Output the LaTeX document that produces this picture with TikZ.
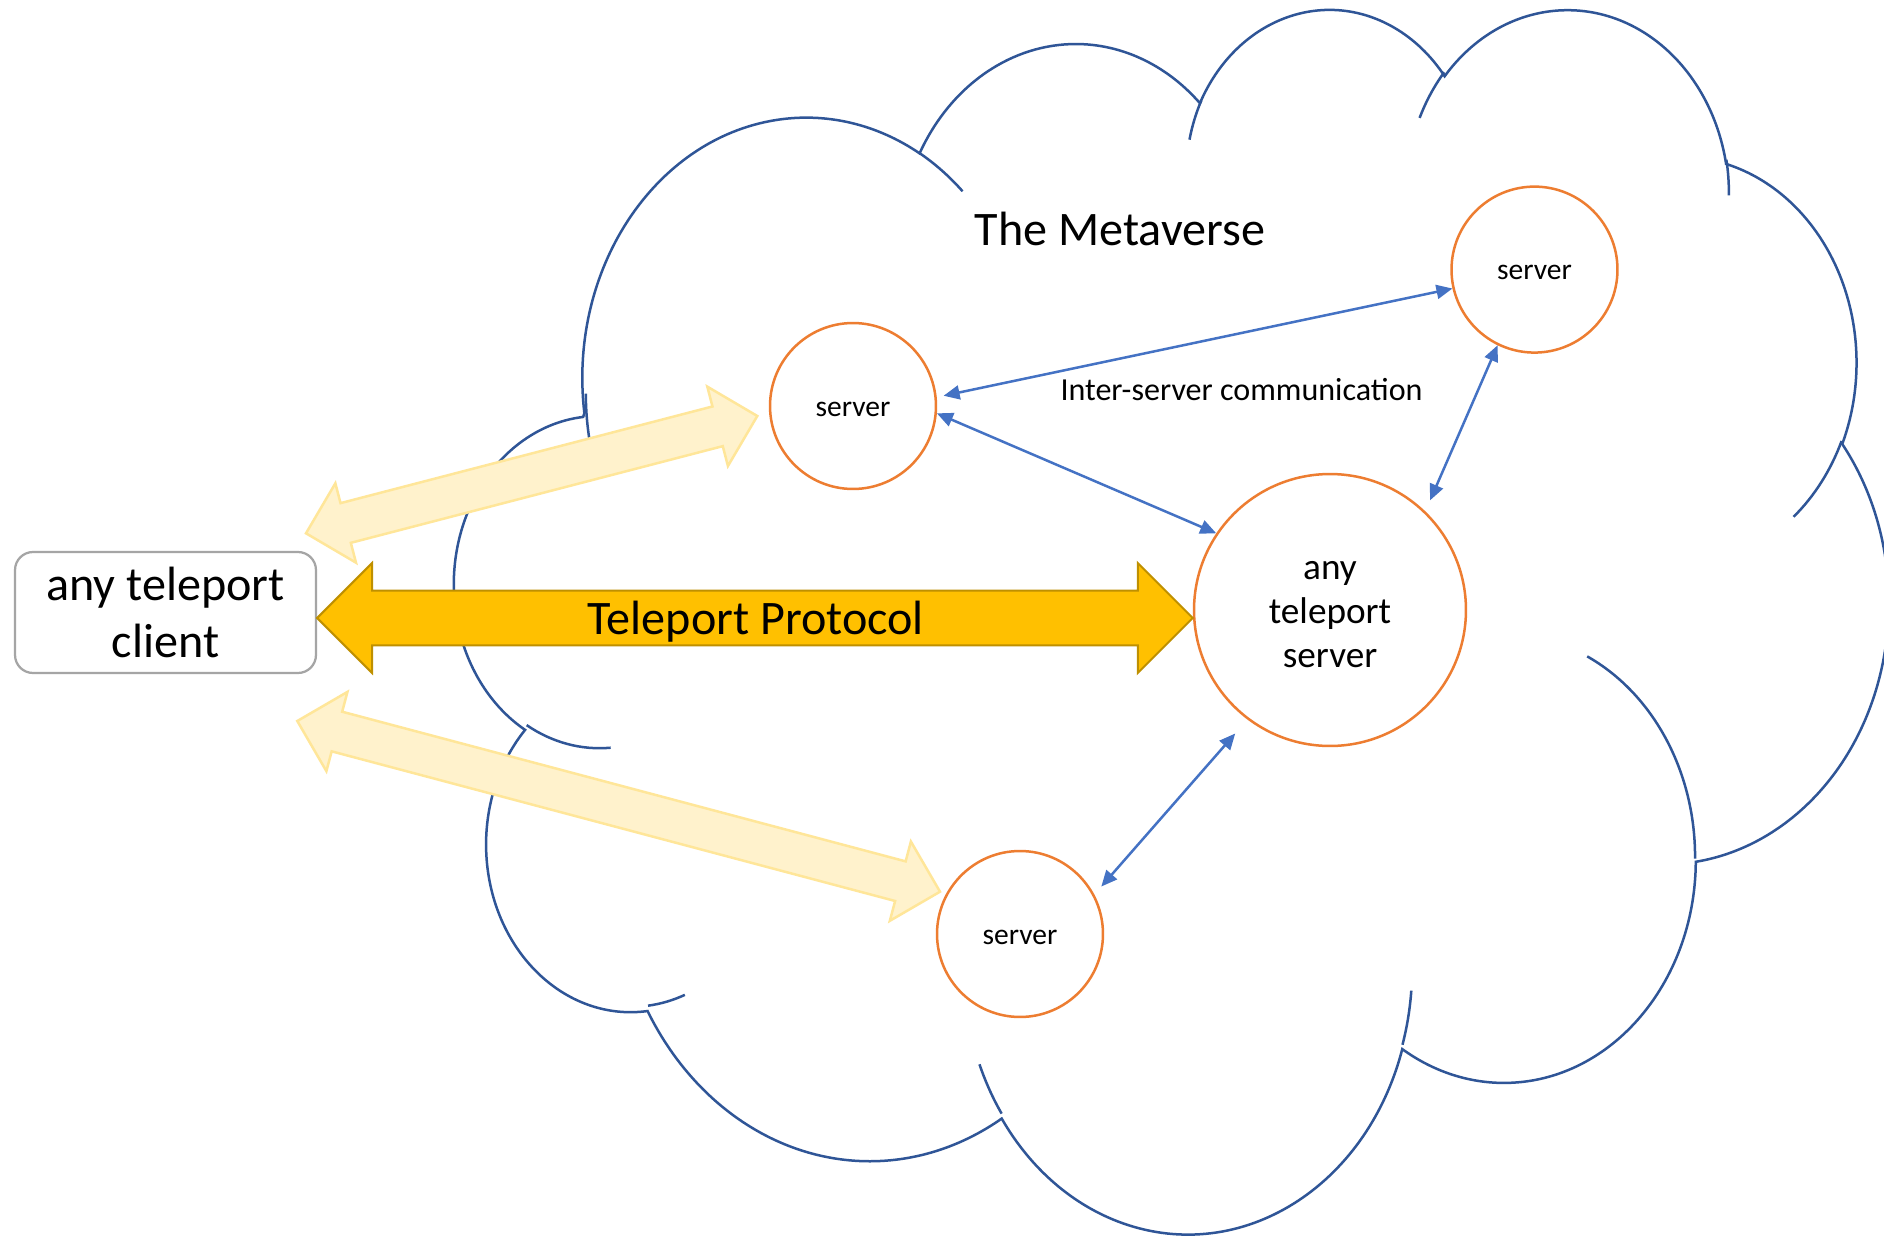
\documentclass[tikz,border=0pt]{standalone}
\usepackage{fontspec}
\setmainfont{Carlito}
\usetikzlibrary{calc,arrows.meta,shapes}

\definecolor{cloudblue}{HTML}{2F5597}
\definecolor{ringorange}{HTML}{ED7D31}
\definecolor{linkblue}{HTML}{4472C4}
\definecolor{gold}{HTML}{FFC000}
\definecolor{golddark}{HTML}{BF9000}
\definecolor{paleyellow}{HTML}{FFF2CC}
\definecolor{paleedge}{HTML}{FFE699}
\definecolor{boxgray}{HTML}{A5A5A5}

\tikzset{
  % one bump of the cloud: x radius / y radius / start / sweep (angles as seen)
  lobe/.code args={#1/#2/#3/#4}{%
    \pgfmathsetmacro\lobestart{atan2((#1)*sin(#3),(#2)*cos(#3))}%
    \pgfmathsetmacro\lobeend{atan2((#1)*sin((#3)+(#4)),(#2)*cos((#3)+(#4)))}%
    \pgfmathsetmacro\lobeend{\lobeend<\lobestart ? \lobeend+360 : \lobeend}%
    \edef\lobenext{\noexpand\pgfkeysalso{start angle=\lobestart,end angle=\lobeend,x radius=#1,y radius=#2}}%
    \lobenext},
  % block arrow with two heads: head length / corner distance / half shaft
  fat arrow/.style n args={3}{to path={
      -- ($(\tikztostart)!#2!45:(\tikztotarget)$)
      -- ($(\tikztostart)!#1!(\tikztotarget)!#3!90:(\tikztotarget)$)
      -- ($(\tikztotarget)!#1!(\tikztostart)!#3!-90:(\tikztostart)$)
      -- ($(\tikztotarget)!#2!-45:(\tikztostart)$)
      -- (\tikztotarget)
      -- ($(\tikztotarget)!#2!45:(\tikztostart)$)
      -- ($(\tikztotarget)!#1!(\tikztostart)!#3!90:(\tikztostart)$)
      -- ($(\tikztostart)!#1!(\tikztotarget)!#3!-90:(\tikztotarget)$)
      -- ($(\tikztostart)!#2!-45:(\tikztotarget)$)
      -- cycle \tikztonodes}},
  cloud/.style={draw=cloudblue, line width=0.05cm},
  server/.style={circle, draw=ringorange, line width=0.05cm, fill=white,
    minimum size=3.32cm, inner sep=0pt, text height=11.8pt, text depth=0pt,
    font=\fontsize{16.8}{20}\selectfont},
  clientbox/.style={draw=boxgray, fill=white, line width=0.045cm,
    rounded corners=0.36cm, minimum width=6.02cm, minimum height=2.42cm,
    inner sep=0pt, align=center, font=\fontsize{27.4}{32.2}\selectfont},
  pale/.style={fill=paleyellow, draw=paleedge, line width=0.05cm,
    fat arrow={0.82cm}{1.16cm}{0.41cm}},
  protocol/.style={fill=gold, draw=golddark, line width=0.04cm,
    fat arrow={1.1cm}{1.556cm}{0.55cm}},
  link/.style={draw=linkblue, line width=0.05cm,
    >={Triangle[length=0.32cm,width=0.28cm]}},
  bigtext/.style={font=\fontsize{27.4}{32}\selectfont, inner sep=0pt},
  note/.style={font=\fontsize{18.25}{22}\selectfont, inner sep=0pt}
}

\begin{document}
\begin{tikzpicture}[x=0.02cm, y=-0.02cm]
\useasboundingbox (0,0) rectangle (1884,1237);
\fill[white] (0,0) rectangle (1884,1237);

% the metaverse cloud
\begin{scope}[shift={(455,5.92)}, x=0.06636cm, y=-0.05669cm]
  \draw[cloud] (39.00,143.70)
      arc[lobe=67.53/91.90/-190.48748/123.78053]
      arc[lobe=53.33/72.67/-144.10238/89.94523]
      arc[lobe=43.65/59.45/-145.80792/99.72302]
      arc[lobe=48.57/65.95/-130.98607/117.24173]
      arc[lobe=53.33/72.73/-78.70888/109.02692]
      arc[lobe=67.75/92.20/-46.26725/130.26900]
      arc[lobe=57.85/78.67/0.62502/114.03333]
      arc[lobe=67.52/92.15/22.45160/115.17255]
      arc[lobe=77.20/105.43/66.24263/75.71102]
      arc[lobe=43.60/59.18/-274.94208/146.73557]
      arc[lobe=43.45/59.45/-246.82850/152.51885]
      -- cycle;
  % folds between the bumps
  \draw[cloud]
      (46.93,261.77) arc[lobe=43.45/59.45/86.742/26.4295]
      (69.28,348.99) arc[lobe=43.60/59.18/73.6105/11.4475]
      (164.78,390.90) arc[lobe=67.52/92.15/137.6242/14.0811]
      (288.27,347.51) arc[lobe=67.52/92.15/6.4533/15.9984]
      (341.29,229.54) arc[lobe=57.85/78.67/-70.2924/70.9174]
      (417.98,153.54) arc[lobe=53.33/72.73/30.3180/27.7515]
      (383.24,54.26) arc[lobe=48.57/65.95/-13.7443/14.8589]
      (290.78,39.52) arc[lobe=48.57/65.95/-149.1815/18.1954]
      (221.41,47.20) arc[lobe=43.65/59.45/-163.4943/17.6864]
      (140.00,51.92) arc[lobe=67.53/91.90/-66.7070/12.3194]
      (41.27,157.89) arc[lobe=67.53/91.90/162.0476/17.7847];
\end{scope}

% client and servers
\node[clientbox] (client) at (165.5,612.5) {any teleport\\client};
\node[server] (s1) at (853,406) {server};
\node[server] (s2) at (1534.5,269.6) {server};
\node[server] (s3) at (1020,934) {server};
\node[server, minimum size=5.44cm, align=center, text height=, text depth=,
  font=\fontsize{21.2}{25}\selectfont] (big) at (1330,610)
  {\rule{0pt}{15.5pt}any\\teleport\\server};

% pale arrows from the client
\coordinate (ctup) at (306,533.3);
\coordinate (s1tip) at (757.3,416);
\coordinate (ctdown) at (297.3,721);
\coordinate (s3tip) at (940,891.7);
\draw[pale] (ctup) to (s1tip);
\draw[pale] (ctdown) to (s3tip);

% teleport protocol
\coordinate (tpy) at (0,618);
\coordinate (tpl) at (client.east |- tpy);
\coordinate (tpr) at (big.west |- tpy);
\draw[protocol] (tpl) to (tpr);
\node[bigtext, anchor=base] (tptext) at (755.7,634.4) {Teleport Protocol};

% inter-server links
\draw[link, <->, shorten <=0.14cm] (s1.6) -- (s2.193);
\draw[link, <->] (s1.-5) -- (big.146);
\draw[link, <->, shorten >=0.24cm] (s2.244) -- (big.46);
\draw[link, <->, shorten <=0.37cm, shorten >=0.21cm] (big.233) -- (s3.28);

\node[bigtext, anchor=base] (metaverse) at (1120,245.7) {The Metaverse};
\node[note, anchor=base] (intertext) at (1241.5,400) {Inter-server communication};
\end{tikzpicture}
\end{document}
